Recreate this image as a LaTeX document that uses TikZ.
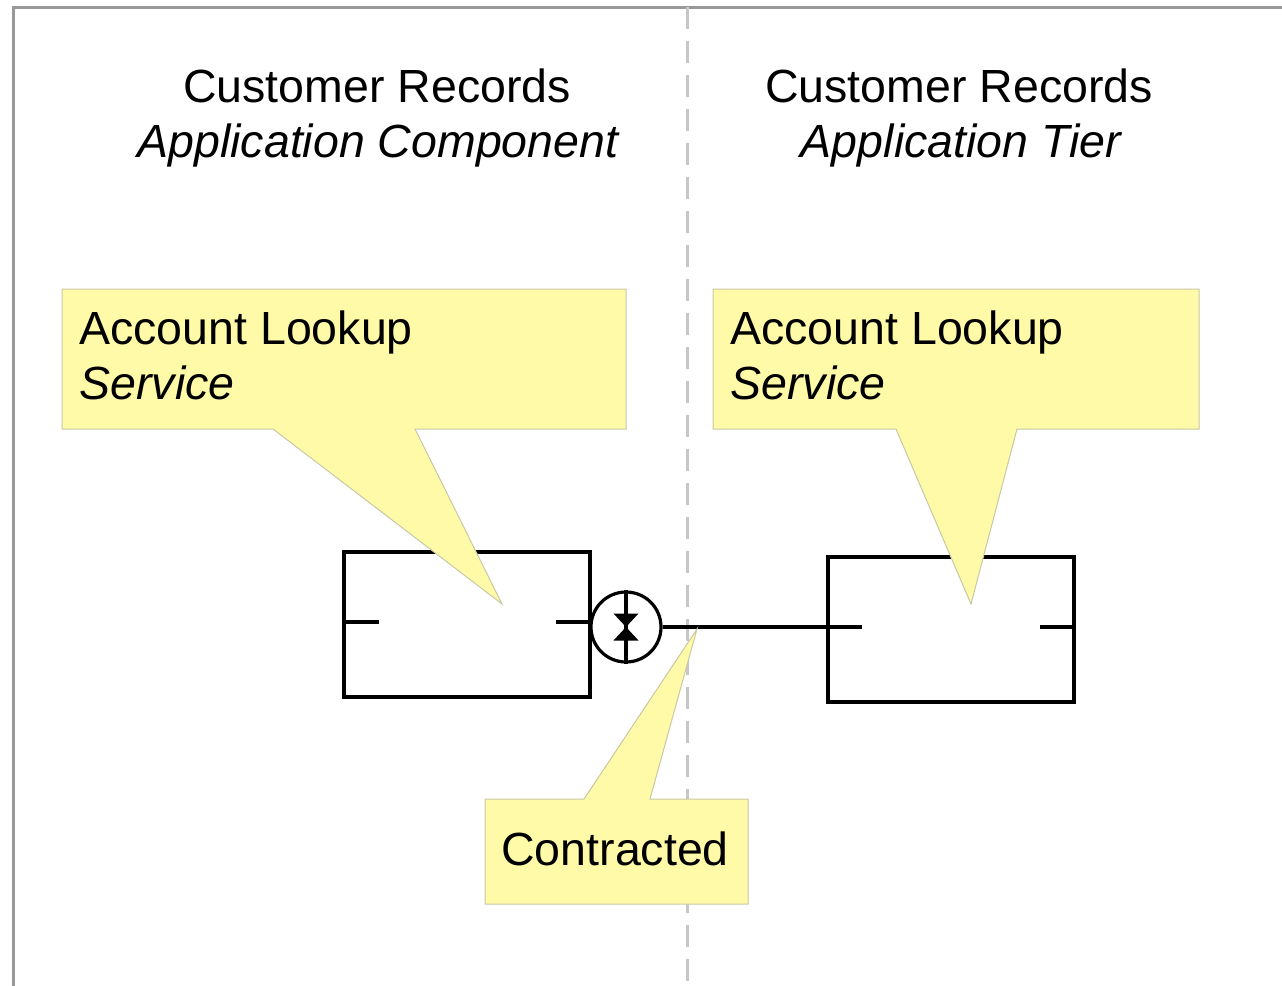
\documentclass[tikz,border=0pt]{standalone}
\usepackage{fontspec}
\setmainfont{Liberation Sans}
\definecolor{calloutfill}{RGB}{255,250,168}
\definecolor{calloutedge}{RGB}{200,200,165}
\begin{document}
\begin{tikzpicture}[x=0.5pt,y=-0.5pt,
  lbl/.style={inner sep=0pt, font=\fontsize{23.25}{28}\selectfont},
  frame/.style={draw=black!40, line width=1.5pt},
  divider/.style={draw=black!22, line width=1.5pt, dash pattern=on 11pt off 6pt},
  comp/.style={draw=black, line width=1.6pt, rectangle, minimum width=123pt, minimum height=72.5pt, inner sep=0pt, fill=white},
  port/.style={draw=black, line width=1.6pt},
  contractsym/.style={draw=black, line width=1.6pt, circle, minimum size=35pt, inner sep=0pt, fill=white},
  callout/.style={fill=calloutfill, draw=calloutedge, line width=0.5pt},
]
\useasboundingbox (0,0) rectangle (1282,986);
% frame and divider
\draw[frame] (13,986) -- (13,7) -- (1282,7);
\draw[divider] (687,7) -- (687,986);
% components
\node[comp] (lbox) at (467,624.5) {};
\node[comp] (rbox) at (951,629.5) {};
\draw[port] (lbox.west) ++(0,-2.5) -- ++(37,0);
\draw[port] (lbox.east) ++(0,-2.5) -- ++(-36,0);
\draw[port] (rbox.east) ++(0,-2.5) -- ++(-36,0);
\coordinate (rin) at ([shift={(36,-2.5)}]rbox.west);
% contract symbol
\node[contractsym] (contract) at (626,627) {};
\draw[port] (contract.north) -- (contract.south);
\fill (contract.center) -- ++(-12.5,-13.5) -- ++(25,0) -- cycle;
\fill (contract.center) -- ++(-12.5,13.5) -- ++(25,0) -- cycle;
\draw[port] (contract) -- (rin);
% callouts
\path[callout] (62,289) -- (626,289) -- (626,429) -- (415,429) -- (502,604) -- (273,429) -- (62,429) -- cycle;
\path[callout] (713,289) -- (1199,289) -- (1199,429) -- (1017,429) -- (971,604) -- (896,429) -- (713,429) -- cycle;
\path[callout] (485,799) -- (584,799) -- (697,629) -- (650,799) -- (748,799) -- (748,904) -- (485,904) -- cycle;
% texts
\node[lbl, anchor=base] (lt1) at (377,102) {Customer Records};
\node[lbl, anchor=base] (lt2) at (378,157) {\itshape Application Component};
\node[lbl, anchor=base] (rt1) at (959,102) {Customer Records};
\node[lbl, anchor=base] (rt2) at (961,157) {\itshape Application Tier};
\node[lbl, anchor=base west] (lc1) at (79,344) {Account Lookup};
\node[lbl, anchor=base west] (lc2) at (79,399) {\itshape Service};
\node[lbl, anchor=base west] (rc1) at (730,344) {Account Lookup};
\node[lbl, anchor=base west] (rc2) at (730,399) {\itshape Service};
\node[lbl, anchor=base west] (cc) at (501,865) {Contracted};
\end{tikzpicture}
\end{document}
